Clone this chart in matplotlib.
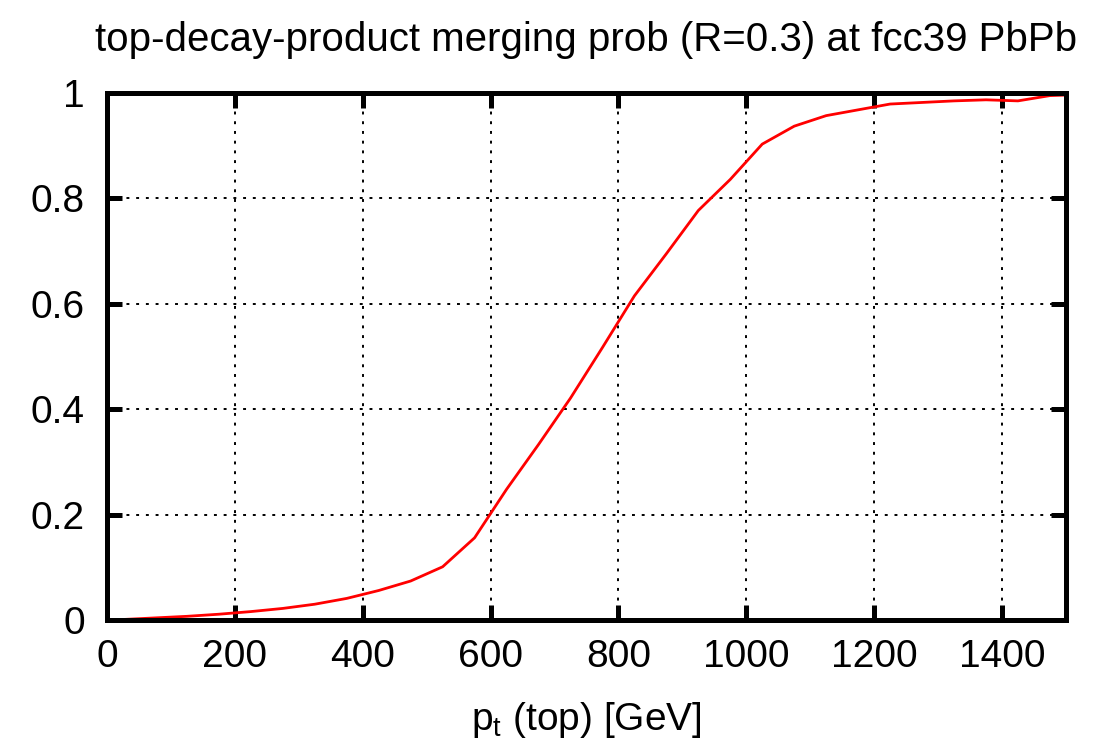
import matplotlib
matplotlib.use("Agg")
import matplotlib.pyplot as plt

pt_top = [25, 75, 125, 175, 225, 275, 325, 375, 425, 475, 525, 575, 625, 675,
          725, 775, 825, 875, 925, 975, 1025, 1075, 1125, 1175, 1225, 1275,
          1325, 1375, 1425, 1475, 1525]
merge_prob = [0.001, 0.004, 0.007, 0.011, 0.016, 0.022, 0.030, 0.041, 0.056,
              0.074, 0.101, 0.156, 0.248, 0.333, 0.421, 0.517, 0.615, 0.695,
              0.777, 0.836, 0.903, 0.937, 0.957, 0.968, 0.979, 0.982, 0.985,
              0.987, 0.985, 0.995, 0.997]
x_ticks = [0, 200, 400, 600, 800, 1000, 1200, 1400]
y_ticks = [0, 0.2, 0.4, 0.6, 0.8, 1.0]
y_tick_labels = ["0", "0.2", "0.4", "0.6", "0.8", "1"]

plt.rcParams['font.family'] = ['Liberation Sans', 'DejaVu Sans']
plt.rcParams['mathtext.fontset'] = 'custom'
plt.rcParams['mathtext.rm'] = 'Liberation Sans'
plt.rcParams['mathtext.it'] = 'Liberation Sans'

fig = plt.figure(figsize=(11.16, 7.42), dpi=100)
ax = fig.add_axes([0.0959, 0.1644, 0.8592, 0.7103])

ax.plot(pt_top, merge_prob, color='#ff0000', lw=2.0, clip_on=True, zorder=3)

ax.set_xlim(0, 1500)
ax.set_ylim(0, 1)
ax.set_xticks(x_ticks)
ax.set_yticks(y_ticks)
ax.set_yticklabels(y_tick_labels)
ax.grid(True, color='black', linestyle=(0, (1.5, 3.5)), lw=1.4)
ax.tick_params(direction='in', length=11, width=3.6, top=True, right=True,
               labelsize=28)
ax.tick_params(axis='x', pad=14)
ax.tick_params(axis='y', pad=16)
for s in ax.spines.values():
    s.set_linewidth(3.6)
    s.set_zorder(4)

ax.set_xlabel(r'p$_\mathrm{t}$ (top) [GeV]', fontsize=28, labelpad=18)
ax.set_title('top-decay-product merging prob (R=0.3) at fcc39 PbPb',
             fontsize=29, pad=30)

fig.savefig('out.png', dpi=100)
